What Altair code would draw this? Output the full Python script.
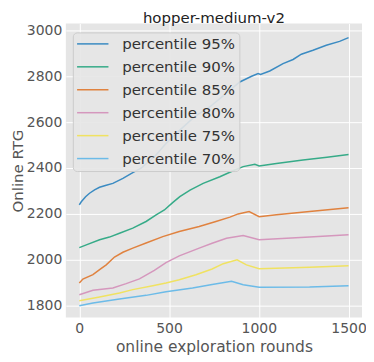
import altair as alt
import pandas as pd

title_text = ["hopper-medium-v2"]
series_names = ["percentile 95%", "percentile 90%", "percentile 85%",
                "percentile 80%", "percentile 75%", "percentile 70%"]
series_colors = ["#3b8bc2", "#36ab88", "#e0823f", "#d597bd", "#f0e261", "#6cbbe8"]

r95 = [0, 11, 35, 57, 85, 113, 150, 187, 243, 298, 344, 420, 483, 560, 641, 728, 810, 894, 960, 996, 1010, 1061, 1135, 1191, 1237, 1302, 1376, 1450, 1500]
v95 = [2239, 2253, 2275, 2290, 2305, 2316, 2325, 2333, 2355, 2380, 2399, 2450, 2507, 2565, 2623, 2667, 2720, 2775, 2800, 2812, 2808, 2823, 2855, 2873, 2896, 2913, 2935, 2952, 2968]

r90 = [0, 39, 113, 168, 224, 298, 372, 428, 474, 520, 560, 617, 690, 783, 857, 913, 978, 1002, 1098, 1246, 1380, 1500]
v90 = [2053, 2065, 2087, 2099, 2116, 2138, 2167, 2196, 2217, 2249, 2275, 2304, 2333, 2362, 2388, 2406, 2416, 2409, 2420, 2435, 2447, 2459]

r85 = [0, 20, 76, 113, 150, 196, 243, 298, 372, 465, 557, 668, 761, 839, 885, 946, 1002, 1098, 1283, 1500]
v85 = [1899, 1916, 1935, 1957, 1978, 2012, 2033, 2051, 2073, 2101, 2123, 2145, 2167, 2186, 2200, 2210, 2188, 2196, 2210, 2227]

r80 = [0, 76, 187, 261, 335, 418, 483, 557, 668, 740, 820, 913, 1002, 1283, 1500]
v80 = [1848, 1867, 1877, 1896, 1917, 1954, 1988, 2017, 2051, 2072, 2094, 2106, 2087, 2099, 2109]

r75 = [0, 113, 224, 298, 409, 483, 557, 650, 740, 802, 879, 931, 1002, 1283, 1500]
v75 = [1822, 1838, 1855, 1870, 1887, 1899, 1913, 1935, 1960, 1983, 2000, 1978, 1961, 1968, 1974]

r70 = [0, 76, 224, 372, 483, 631, 740, 848, 913, 1002, 1283, 1500]
v70 = [1800, 1812, 1829, 1845, 1861, 1877, 1892, 1906, 1891, 1880, 1881, 1887]

x_ticks = [0, 500, 1000, 1500]
y_ticks = [1800, 2000, 2200, 2400, 2600, 2800, 3000]

rows = []
for name, rs, vs in zip(series_names, [r95, r90, r85, r80, r75, r70],
                        [v95, v90, v85, v80, v75, v70]):
    for r, v in zip(rs, vs):
        rows.append({"series": name, "round": r, "value": v})
df = pd.DataFrame(rows)

font = "DejaVu Sans"
W, H = 297, 295

lines = alt.Chart(df).mark_line(strokeWidth=1.5).encode(
    x=alt.X("round:Q",
            scale=alt.Scale(domain=[-75, 1575], nice=False, zero=False),
            axis=alt.Axis(values=x_ticks, title="online exploration rounds", format="d")),
    y=alt.Y("value:Q",
            scale=alt.Scale(domain=[1748, 3030], nice=False, zero=False),
            axis=alt.Axis(values=y_ticks, title="Online RTG", format="d",
                          titleX=-43.5, titleY=H / 2, titleAngle=270,
                          titleAlign="center", titleBaseline="alphabetic",
                          titleFontSize=15)),
    color=alt.Color("series:N",
                    scale=alt.Scale(domain=series_names, range=series_colors),
                    legend=alt.Legend(title=None, orient="none", legendX=7, legendY=9,
                                      fillColor="rgba(229,229,229,0.9)",
                                      strokeColor="#CCCCCC",
                                      cornerRadius=4, padding=4,
                                      symbolType="M-3,0H3", symbolSize=110,
                                      symbolStrokeWidth=1.5, symbolOffset=8.5,
                                      labelFontSize=15, labelFont=font,
                                      labelColor="#333333", labelOffset=22,
                                      rowPadding=7)),
    detail="series:N",
)

title_df = pd.DataFrame({"t": title_text})
title = alt.Chart(title_df).mark_text(
    font=font, fontSize=15, color="#222222", align="center", baseline="alphabetic"
).encode(
    x=alt.value(W / 2), y=alt.value(-0.5), text="t:N"
)

chart = alt.layer(lines, title).properties(
    width=W, height=H,
    autosize=alt.AutoSizeParams(type="none"),
    padding={"left": 58, "top": 15, "right": 4, "bottom": 40},
).configure_view(
    fill="#E5E5E5", stroke=None
).configure_axis(
    grid=True, gridColor="#FFFFFF", gridWidth=1, domain=False, ticks=False,
    labelFont=font, labelFontSize=14, labelColor="#555555", labelPadding=4,
    titleFont=font, titleFontSize=15.5, titleColor="#555555", titleFontWeight="normal",
)

chart.save("out.html", embed_options={"renderer": "svg", "actions": False})
